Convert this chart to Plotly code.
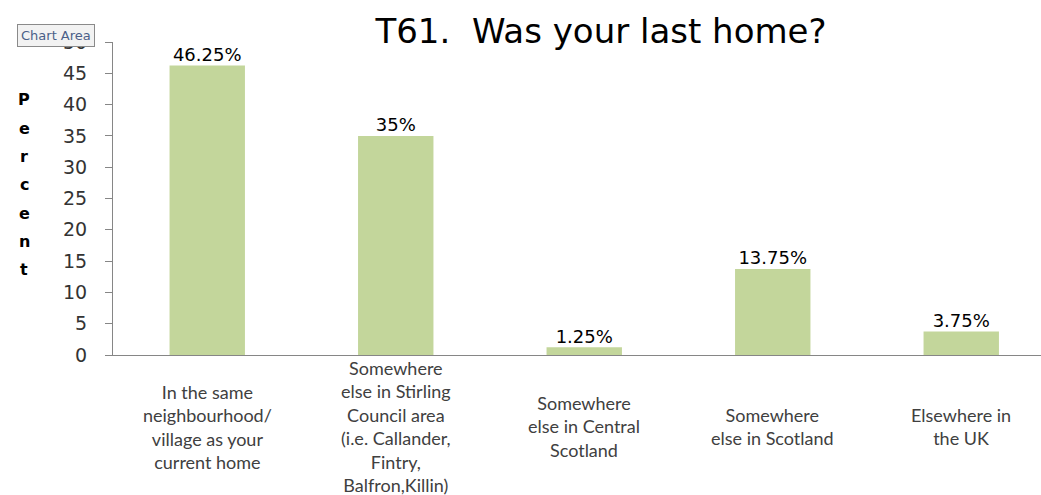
import plotly.graph_objects as go

categories = [
    "In the same<br>neighbourhood/<br>village as your<br>current home",
    "Somewhere<br>else in Stirling<br>Council area<br>(i.e. Callander,<br>Fintry,<br>Balfron,Killin)",
    "Somewhere<br>else in Central<br>Scotland",
    "Somewhere<br>else in Scotland",
    "Elsewhere in<br>the UK",
]
values = [46.25, 35, 1.25, 13.75, 3.75]
labels = ["46.25%", "35%", "1.25%", "13.75%", "3.75%"]
ytitle = "Percent"
title = "T61.\u00a0\u00a0Was your last home?"

W, H = 1041, 495
ml, mr, mt, mb = 113, 0, 42, 140
ph = H - mt - mb
pw = W - ml - mr

xs = list(range(len(values)))
fig = go.Figure()
fig.add_trace(go.Bar(
    x=xs, y=values, width=0.4,
    marker=dict(color="#c3d69b", line=dict(width=0)),
    hoverinfo="skip",
))
fig.add_trace(go.Scatter(
    x=xs, y=values, mode="text", text=labels, textposition="top center",
    textfont=dict(family="DejaVu Sans", size=18, color="#000000"), cliponaxis=False,
    hoverinfo="skip",
))

ann = []
for i, c in enumerate(categories):
    ann.append(dict(x=i, xref="x", y=(355 - 427) / ph, yref="paper", text=c,
                    showarrow=False, xanchor="center", yanchor="middle", align="center",
                    font=dict(family="Lato", size=18, color="#404040")))
for j, ch in enumerate(ytitle):
    py = 100 + j * 28.3
    ann.append(dict(x=(24 - ml) / pw, xref="paper", y=(355 - py) / ph, yref="paper",
                    text="<b>%s</b>" % ch, showarrow=False, xanchor="center", yanchor="middle",
                    font=dict(family="DejaVu Sans", size=16, color="#000000")))
ann.append(dict(x=(56 - ml) / pw, xref="paper", y=(355 - 36) / ph, yref="paper",
                text="Chart Area", showarrow=False, xanchor="center", yanchor="middle",
                bgcolor="#f2f2f2", bordercolor="#8a8a8a", borderwidth=1, borderpad=3,
                font=dict(family="DejaVu Sans", size=13, color="#4a5f88")))

fig.update_layout(
    width=W, height=H,
    margin=dict(l=ml, r=mr, t=mt, b=mb, pad=0),
    paper_bgcolor="white", plot_bgcolor="white",
    showlegend=False,
    title=dict(text=title, x=601 / W, xanchor="center", y=1 - 31 / H, yanchor="middle",
               font=dict(family="DejaVu Sans", size=34, color="#000000")),
    xaxis=dict(range=[-0.5, -0.5 + pw / 188.5], showticklabels=False, ticks="",
               showline=True, linecolor="#868686", linewidth=1, showgrid=False, zeroline=False),
    yaxis=dict(range=[0, 50], dtick=5, tick0=0, ticks="outside", ticklen=7, tickcolor="#868686",
               showline=True, linecolor="#868686", linewidth=1, showgrid=False, zeroline=False,
               ticklabelstandoff=14,
               tickfont=dict(family="DejaVu Sans", size=19, color="#333333")),
    annotations=ann,
)

fig.write_html("out.html", config={"displayModeBar": False},
               post_script="document.body.style.margin='0';document.body.style.overflow='hidden';")
